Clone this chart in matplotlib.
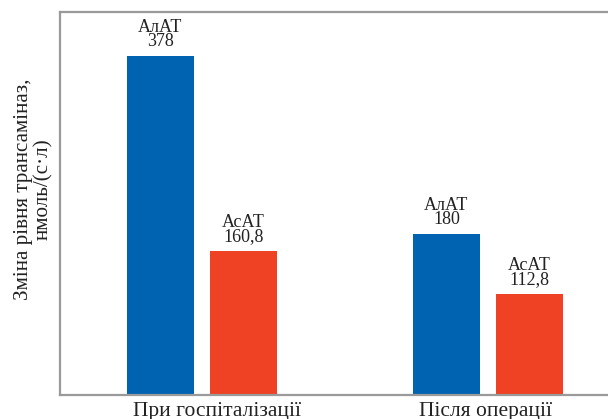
"""
Bar chart of transaminase levels (ALT / AST) on admission and after surgery.
"""

import matplotlib
import matplotlib.pyplot as plt

matplotlib.use("Agg")

groups = ["При госпіталізації", "Після операції"]
enzymes = ["АлАТ", "АсАТ"]
alat_values = [378, 180]
asat_values = [160.8, 112.8]
value_labels_alat = ["378", "180"]
value_labels_asat = ["160,8", "112,8"]

BLUE = "#0063b1"
RED = "#ef4124"
SPINE = "#9a9a9a"


def plot_transaminases():
    plt.rcParams["font.family"] = ["Liberation Serif", "DejaVu Serif"]
    fig = plt.figure(figsize=(6.08, 4.19), dpi=100)
    ax = fig.add_axes([60 / 608, 24 / 419, 548 / 608, 383 / 419])

    width = 0.234
    offset = 0.145
    x = list(range(len(groups)))

    series = [
        (alat_values, value_labels_alat, enzymes[0], BLUE, -offset),
        (asat_values, value_labels_asat, enzymes[1], RED, offset),
    ]
    for values, texts, name, color, shift in series:
        pos = [i + shift for i in x]
        ax.bar(pos, values, width=width, color=color)
        for p, v, t in zip(pos, values, texts):
            ax.annotate(name + "\n" + t, (p, v), xytext=(0, 4),
                        textcoords="offset points", ha="center", va="bottom",
                        fontsize=13, color="#222222", linespacing=0.8)

    ax.set_xlim(-0.4965, 1.42)
    ax.set_ylim(0, 427)

    ax.spines["right"].set_visible(False)
    for side in ["left", "top", "bottom"]:
        ax.spines[side].set_color(SPINE)
        ax.spines[side].set_linewidth(1.6)

    # category names sit slightly off the group centres
    ax.set_yticks([])
    ax.set_xticks([0.052, 0.993])
    ax.set_xticklabels(groups, fontsize=15.5, color="#222222")
    ax.tick_params(axis="x", length=0, pad=5)

    ax.set_ylabel("Зміна рівня трансаміназ,\nнмоль/(с·л)", fontsize=15.2,
                  color="#222222", linespacing=1.1)
    ax.yaxis.set_label_coords(-0.012, 0.538)

    fig.savefig("out.png", dpi=100)


if __name__ == "__main__":
    plot_transaminases()
